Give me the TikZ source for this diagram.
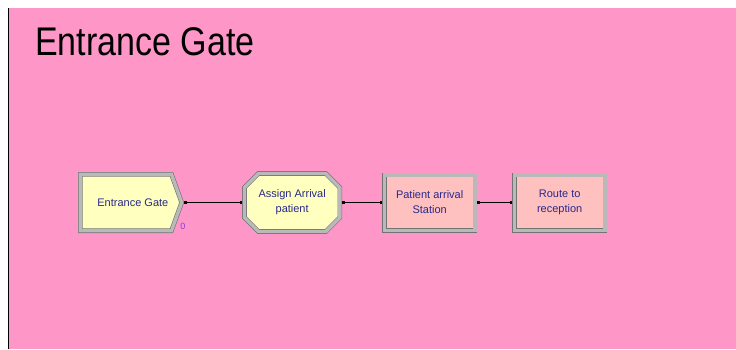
\documentclass[tikz,border=0pt]{standalone}
\usepackage{fontspec}
\setmainfont{Liberation Sans}
\newfontfamily\titlefont[FakeStretch=0.85]{Liberation Sans}
\usepackage{xcolor}
\usetikzlibrary{shapes,arrows.meta,positioning}

\definecolor{bgpink}{RGB}{255,150,200}
\definecolor{gateyellow}{RGB}{255,255,192}
\definecolor{stationpink}{RGB}{255,192,192}
\definecolor{bevel}{RGB}{185,185,185}
\definecolor{rim}{RGB}{115,115,115}
\definecolor{labelblue}{RGB}{40,40,140}
\definecolor{countpurple}{RGB}{140,60,220}

\begin{document}
\begin{tikzpicture}[x=1pt,y=-1pt,
    module/.style={draw=rim,line width=0.6pt,double=bevel,double distance=3.4pt,outer sep=2.3pt,
      inner sep=1pt,align=center,text=labelblue,font=\fontsize{11}{15}\selectfont},
    link/.style={line width=0.8pt,{Square[length=2.5pt,width=2.5pt]}-{Square[length=2.5pt,width=2.5pt]}}]
        \useasboundingbox (0,0) rectangle (736,349);
        \fill[bgpink] (8,8) rectangle (736,349);
        \draw[line width=1.2pt] (8.6,8) -- (8.6,349);
        \node[anchor=base west,inner sep=0pt,font=\titlefont\fontsize{40}{40}\selectfont] (title) at (35,55) {Entrance Gate};
        \node[module,signal,signal to=east,signal pointer angle=140,fill=gateyellow,
          minimum width=101.4pt,minimum height=56.4pt,anchor=west] (gate) at (78,202.5) {\hspace*{14pt}Entrance Gate};
        \node[module,chamfered rectangle,chamfered rectangle xsep=7pt,chamfered rectangle ysep=7pt,
          fill=gateyellow,minimum width=95.4pt,minimum height=58pt,right=58pt of gate] (assign) {Assign Arrival\\patient};
        \node[module,rectangle,fill=stationpink,minimum width=90.4pt,minimum height=55.4pt,right=40pt of assign] (station) {Patient arrival\\Station};
        \node[module,rectangle,fill=stationpink,minimum width=90.4pt,minimum height=55.4pt,right=35pt of station] (route) {Route to\\reception};
        \node[inner sep=0pt,text=countpurple,font=\fontsize{9}{9}\selectfont] (gatecount) at (183,226) {0};
        \draw[link] (gate.east) -- (assign.west);
        \draw[link] (assign.east) -- (station.west);
        \draw[link] (station.east) -- (route.west);
    \end{tikzpicture}
\end{document}
